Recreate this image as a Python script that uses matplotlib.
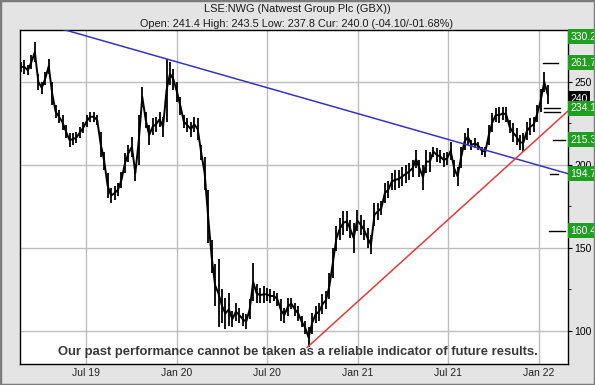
import matplotlib
matplotlib.use('Agg')
import matplotlib.pyplot as plt
from matplotlib.patches import Rectangle
import pandas as pd

plt.rcParams['font.family'] = ['Liberation Sans', 'DejaVu Sans']

# weekly low / high (GBX), starting 2019-02-20
week_start = '2019-02-20'
low = [256, 255, 254, 258, 262, 245, 243, 248, 255, 236,
       228, 225, 221, 216, 211, 212, 213, 216, 219, 223,
       226, 226, 224, 205, 197, 180, 177, 179, 181, 186,
       195, 202, 205, 190, 200, 235, 222, 212, 218, 220,
       223, 217, 226, 248, 245, 238, 230, 222, 220, 217,
       220, 215, 203, 185, 153, 135, 115, 102, 105, 101,
       103, 102, 106, 105, 103, 101, 107, 118, 117, 117,
       117, 118, 117, 118, 115, 106, 105, 109, 113, 109,
       106, 102, 98, 90, 98, 105, 106, 110, 113, 119,
       132, 148, 155, 158, 160, 156, 147, 160, 158, 155,
       150, 146, 163, 167, 170, 177, 180, 185, 185, 186,
       187, 189, 191, 193, 198, 193, 185, 195, 196, 205,
       202, 201, 199, 200, 203, 193, 187, 198, 209, 212,
       209, 210, 209, 206, 205, 212, 220, 226, 225, 227,
       226, 219, 214, 212, 209, 208, 215, 218, 220, 226,
       232, 244, 237]
high = [262, 263, 260, 266, 274, 255, 250, 256, 264, 250,
        236, 233, 230, 224, 219, 219, 220, 223, 226, 230,
        232, 232, 230, 220, 208, 195, 186, 187, 189, 196,
        207, 212, 217, 200, 230, 247, 232, 224, 228, 229,
        232, 229, 264, 262, 258, 250, 241, 230, 228, 226,
        229, 228, 212, 205, 185, 155, 140, 143, 125, 120,
        123, 112, 117, 114, 111, 110, 119, 141, 128, 126,
        127, 126, 125, 124, 123, 119, 114, 120, 120, 117,
        115, 109, 106, 102, 111, 115, 117, 122, 124, 135,
        150, 163, 168, 172, 172, 167, 165, 173, 170, 167,
        162, 158, 177, 177, 178, 189, 190, 195, 197, 197,
        199, 200, 201, 203, 209, 203, 200, 209, 208, 211,
        210, 209, 207, 208, 214, 203, 199, 211, 219, 222,
        215, 216, 214, 211, 211, 224, 231, 234, 235, 235,
        235, 227, 225, 222, 218, 219, 226, 228, 229, 236,
        246, 256, 248]

# trend lines
blue_dates = ['2019-02-18', '2022-03-01']
blue_vals = [289.1, 194.7]
red_dates = ['2020-09-20', '2022-03-01']
red_vals = [90.0, 232.5]

# right-hand level labels
level_vals = [330.2, 261.7, 234.1, 215.3, 194.7, 160.4]
level_text = ['330.2', '261.7', '234.1', '215.3', '194.7', '160.4']
cur_price = 240.0

# short level markers near the right edge
marker_vals = [261.7, 234.5, 232.1, 215.3, 194.7, 160.4]
marker_span = [(0.954, 0.982), (0.956, 0.985), (0.956, 0.985),
               (0.973, 0.995), (0.967, 0.982), (0.965, 0.995)]

tick_dates = ['2019-07-01', '2020-01-01', '2020-07-01',
              '2021-01-01', '2021-07-01', '2022-01-01']
tick_labels = ['Jul 19', 'Jan 20', 'Jul 20', 'Jan 21', 'Jul 21', 'Jan 22']

dates = pd.date_range(week_start, periods=len(low), freq='7D')
mid = [(a + b) / 2 for a, b in zip(low, high)]

fig = plt.figure(figsize=(5.95, 3.85), dpi=100, facecolor='#e4e4e4')
ax = fig.add_axes([20 / 595, 21 / 385, 548 / 595, 334 / 385])
ax.set_facecolor('white')

# grid
for d in pd.to_datetime(tick_dates):
    ax.axvline(d, color='#bdbdbd', lw=1, zorder=0)
for v in [100, 150, 200, 250]:
    ax.axhline(v, color='#bdbdbd', lw=1, zorder=0)

# price bars
ax.vlines(dates, low, high, color='black', lw=1.3, zorder=3)
ax.plot(dates, mid, color='black', lw=1.4, zorder=3)

ax.plot(pd.to_datetime(blue_dates), blue_vals, color='#3434c8', lw=1.1, zorder=4)
ax.plot(pd.to_datetime(red_dates), red_vals, color='#e83a3a', lw=1.1, zorder=4)

for v, (a, b) in zip(marker_vals, marker_span):
    ax.axhline(v, xmin=a, xmax=b, color='black', lw=1, zorder=4)

ax.set_xlim(pd.Timestamp('2019-02-18'), pd.Timestamp('2022-03-01'))
ax.set_ylim(80, 281.3)

ax.set_xticks(pd.to_datetime(tick_dates))
ax.set_xticklabels(tick_labels)
ax.yaxis.tick_right()
ax.set_yticks([100, 150, 200, 250])
ax.set_yticks([125, 175, 225, 275], minor=True)
ax.tick_params(axis='x', length=0, pad=3, labelsize=7.5, colors='#222222')
ax.tick_params(axis='y', which='major', length=3, pad=1.5, labelsize=7.5)
ax.tick_params(axis='y', which='minor', length=2)
for s in ax.spines.values():
    s.set_color('black')
    s.set_linewidth(1)

# value boxes on the right
ytrans = ax.get_yaxis_transform()
ytop = ax.get_ylim()[1]
ax.text(1.004, cur_price, '240', transform=ytrans,
        color='white', fontsize=7.5, va='center', ha='left', clip_on=False,
        bbox=dict(boxstyle='square,pad=0.25', fc='black', ec='none'))
# second (hidden) box peeking out under 234.1
ax.add_patch(Rectangle((1.003, 229.3), 0.1, 4.0, transform=ytrans,
                       fc='#1f9f1f', ec='none', clip_on=False, zorder=5))
for v, t in zip(level_vals, level_text):
    yv = min(v, ytop - 4)
    ax.text(1.004, yv, t, transform=ytrans, zorder=6,
            color='white', fontsize=7.5, va='center', ha='left', clip_on=False,
            bbox=dict(boxstyle='square,pad=0.25', fc='#1f9f1f', ec='none'))

ax.text(0.507, 0.036, 'Our past performance cannot be taken as a reliable indicator of future results.',
        transform=ax.transAxes, ha='center', va='center', fontsize=9.4,
        fontweight='bold', color='#383838')

fig.text(297 / 595, 1 - 9 / 385, 'LSE:NWG (Natwest Group Plc (GBX))',
         ha='center', va='center', fontsize=7.9, color='#1a1a1a')
fig.text(297 / 595, 1 - 24 / 385,
         'Open: 241.4 High: 243.5 Low: 237.8 Cur: 240.0 (-04.10/-01.68%)',
         ha='center', va='center', fontsize=7.8, color='#1a1a1a')

fig.patches.append(Rectangle((0, 0), 1, 1, transform=fig.transFigure,
                             fill=False, ec='#7c7c7c', lw=2.5))

fig.savefig('out.png', dpi=100, facecolor=fig.get_facecolor())
